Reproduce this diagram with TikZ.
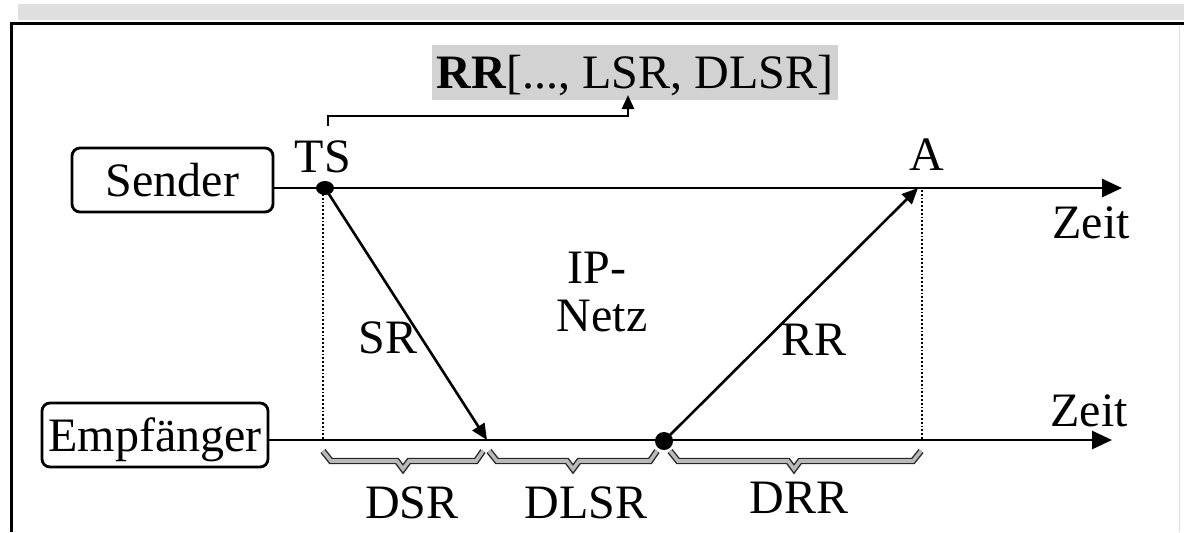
\documentclass[tikz,border=0pt]{standalone}
\usepackage{fontspec}
\setmainfont{Liberation Serif}
\usetikzlibrary{arrows.meta,calc}

\tikzset{
  lbl/.style={anchor=base,inner sep=0pt,font=\fontsize{24}{28}\selectfont},
  party/.style={draw,line width=1.4pt,rounded corners=4pt,minimum height=32pt,
    inner sep=0pt,text height=16.3pt,text depth=0pt,font=\fontsize{24}{28}\selectfont},
  axis/.style={line width=1.4pt,-{Triangle[length=10pt,width=9pt]}},
  msg/.style={line width=1.3pt,-{Triangle[length=8pt,width=7pt]}},
  ptr/.style={line width=1.3pt,-{Triangle[length=7pt,width=6pt]}},
  refline/.style={line width=1.3pt,dash pattern=on 0.9pt off 1pt},
  dlybrace/.style={draw=black!85,double=gray!55,line width=0.7pt,double distance=1.8pt,
    line join=miter},
  evt/.style={fill=black},
}

\begin{document}
\begin{tikzpicture}[x=0.5pt,y=-0.5pt]
  \useasboundingbox (0,0) rectangle (1184,532);

  % frame of the figure
  \fill[gray!25] (18,4) rectangle (1184,20);
  \draw[line width=1.5pt] (11,532) -- (11,23) -- (1184,23);
  \draw[gray!25,line width=0.5pt] (1179,25) -- (1179,532);

  % parties
  \node[party,minimum width=100.5pt] (snd) at (172.5,180) {Sender};
  \node[party,minimum width=113pt] (rcv) at (155,435) {Empf\"anger};

  % time points
  \coordinate (ts) at (325,188);
  \coordinate (sr) at (487,440);
  \coordinate (rr) at (664,441);
  \coordinate (a) at (918,188);
  \coordinate (sendend) at (1122,188);
  \coordinate (rcvend) at (1112,440);

  % time axes
  \draw[axis] (snd.east |- ts) -- (sendend);
  \draw[axis] (rcv.east |- sr) -- (rcvend);

  % dotted reference marks
  \draw[refline] (323,194) -- (323,440);
  \draw[refline] (922,190) -- (922,440);

  % messages
  \draw[msg] (ts) -- (sr);
  \draw[msg] (rr) -- (a);
  \fill[evt] (ts) ellipse [x radius=9,y radius=7];
  \fill[evt] (rr) circle [radius=9];

  % report block with timestamp reference
  \node[fill=gray!35,minimum width=203pt,minimum height=27.5pt,inner sep=0pt,
    text height=16.3pt,text depth=0pt,font=\fontsize{24}{28}\selectfont]
    (rrmsg) at (635,72) {\textbf{RR}[..., LSR, DLSR]};
  \coordinate (bs) at (328,126);
  \coordinate (lsr) at (628,95);
  \draw[ptr] (bs) -- ++(0,-10) -| (lsr);

  % labels
  \node[lbl] (tslbl) at (323,172) {TS};
  \node[lbl] (albl) at (927,170) {A};
  \node[lbl] (z1) at (1091,238) {Zeit};
  \node[lbl] (z2) at (1089,426) {Zeit};
  \node[lbl] (ip1) at (597,283) {IP-};
  \node[lbl] (ip2) at (602,331) {Netz};
  \node[lbl] (srl) at (388,353) {SR};
  \node[lbl] (rrl) at (814,355) {RR};

  % delay braces
  \draw[dlybrace] (323,451) -- (331,461) -- (397,461) -- (403,469) -- (409,461)
    -- (476,461) -- (483,451);
  \draw[dlybrace] (489,451) -- (497,461) -- (567,461) -- (573,469) -- (579,461)
    -- (650,461) -- (657,451);
  \draw[dlybrace] (670,451) -- (678,461) -- (788,461) -- (794,469) -- (800,461)
    -- (913,461) -- (921,451);

  \node[lbl] (dsr) at (412,518) {DSR};
  \node[lbl] (dlsr) at (586,518) {DLSR};
  \node[lbl] (drr) at (799,513) {DRR};
\end{tikzpicture}
\end{document}
